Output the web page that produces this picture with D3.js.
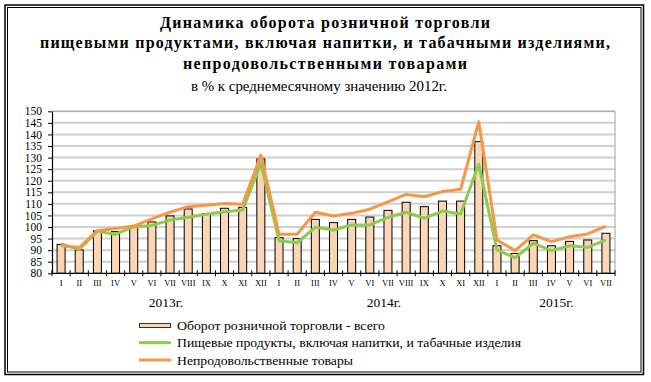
<!DOCTYPE html>
<html><head><meta charset="utf-8">
<script src="https://cdn.jsdelivr.net/npm/d3@7/dist/d3.min.js"></script>
<style>body{margin:0;background:#fff}svg{display:block}</style>
</head><body>
<svg id="c" width="651" height="382"></svg>
<script>
const months = ["I","II","III","IV","V","VI","VII","VIII","IX","X","XI","XII",
  "I","II","III","IV","V","VI","VII","VIII","IX","X","XI","XII",
  "I","II","III","IV","V","VI","VII"];
const years = [{label:"2013г.", from:0, to:11},{label:"2014г.", from:12, to:23},{label:"2015г.", from:24, to:30}];
const totalRetail = [92.5,90.1,98.3,98.0,100.1,102.2,104.8,107.8,105.8,108.1,108.5,129.4,
  95.4,95.0,103.3,101.9,103.3,104.3,107.2,110.7,108.8,111.2,111.2,136.9,
  91.9,88.6,94.1,91.9,93.8,94.4,97.3];
const foodProducts = [92.7,90.3,98.2,96.9,100.1,100.7,103.0,104.2,105.5,106.6,107.4,127.5,
  94.1,93.2,99.9,98.7,100.9,100.9,104.2,106.4,103.8,106.9,105.6,127.2,
  90.1,86.7,93.0,89.8,91.9,91.2,94.4];
const nonFood = [91.9,91.1,98.4,99.4,100.4,103.5,106.4,108.8,109.4,110.2,109.8,131.1,
  96.9,96.9,106.4,104.8,105.9,107.7,110.9,114.1,113.1,115.3,116.3,145.5,
  94.4,89.8,96.6,93.7,95.8,97.0,100.4];
const yTicks = [80,85,90,95,100,105,110,115,120,125,130,135,140,145,150];
const titleLines = ["Динамика оборота розничной торговли",
  "пищевыми продуктами, включая напитки, и табачными изделиями,",
  "непродовольственными товарами"];
const subtitle = "в % к среднемесячному значению 2012г.";
const legendItems = ["Оборот розничной торговли - всего",
  "Пищевые продукты, включая напитки, и табачные изделия",
  "Непродовольственные товары"];

const svg = d3.select("#c");
const serif = "'Liberation Serif','Times New Roman',serif";
const BAR = "#FCD5B5", GREEN = "#8CCB4C", ORANGE = "#F79646";

// frame
svg.append("rect").attr("x",5).attr("y",5).attr("width",638.5).attr("height",369.5)
  .attr("fill","none").attr("stroke","#000").attr("stroke-width",1.5);
svg.append("rect").attr("x",7.5).attr("y",7.5).attr("width",633.5).attr("height",364.5)
  .attr("fill","none").attr("stroke","#000").attr("stroke-width",1);

// titles
const tW = [330, 570, 284];
const tY = [28, 48, 69];
titleLines.forEach((t,i)=>{
  svg.append("text").attr("x",325).attr("y",tY[i]).attr("text-anchor","middle")
    .attr("font-family",serif).attr("font-weight","bold").attr("font-size",16)
    .attr("textLength",tW[i]).attr("lengthAdjust","spacing").text(t);
});
svg.append("text").attr("x",319).attr("y",91).attr("text-anchor","middle")
  .attr("font-family",serif).attr("font-size",14.5).attr("textLength",256)
  .attr("lengthAdjust","spacingAndGlyphs").text(subtitle);

// scales
const L=52, R=615, T=111.3, B=273.3;
const xStep = (R-L)/months.length;
const xc = i => L + xStep*(i+0.5);
const y = d3.scaleLinear().domain([80,150]).range([B,T]);

// grid
svg.append("g").selectAll("line").data(yTicks.filter(d=>d>80)).join("line")
  .attr("x1",L).attr("x2",R).attr("y1",d=>y(d)).attr("y2",d=>y(d))
  .attr("stroke","#cfcfcf").attr("stroke-width",2);
svg.append("line").attr("x1",R).attr("x2",R).attr("y1",T).attr("y2",B)
  .attr("stroke","#a0a0a0").attr("stroke-width",1);
svg.append("line").attr("x1",L).attr("x2",R).attr("y1",T).attr("y2",T)
  .attr("stroke","#a0a0a0").attr("stroke-width",1);

// bars
svg.append("g").selectAll("rect").data(totalRetail).join("rect")
  .attr("x",(d,i)=>xc(i)-4).attr("width",8)
  .attr("y",d=>y(d)).attr("height",d=>B-y(d))
  .attr("fill",BAR).attr("stroke","#000").attr("stroke-width",1);

// lines
const line = d3.line().x((d,i)=>xc(i)).y(d=>y(d));
svg.append("path").datum(foodProducts).attr("d",line).attr("fill","none")
  .attr("stroke",GREEN).attr("stroke-width",3).attr("stroke-linejoin","round");
svg.append("path").datum(nonFood).attr("d",line).attr("fill","none")
  .attr("stroke",ORANGE).attr("stroke-width",3).attr("stroke-linejoin","round");

// y axis
const yAxis = svg.append("g").attr("transform",`translate(${L},0)`)
  .call(d3.axisLeft(y).tickValues(yTicks).tickSize(4).tickPadding(6).tickSizeOuter(0));
yAxis.select(".domain").attr("stroke","#000").attr("stroke-width",1.2);
yAxis.selectAll("text").attr("font-family",serif).attr("font-size",11.5).attr("fill","#000");

// x axis
svg.append("line").attr("x1",L).attr("x2",R).attr("y1",B).attr("y2",B)
  .attr("stroke","#000").attr("stroke-width",1.2);
svg.append("g").selectAll("line").data(d3.range(months.length+1)).join("line")
  .attr("x1",i=>L+xStep*i).attr("x2",i=>L+xStep*i)
  .attr("y1",B-3).attr("y2",B+3).attr("stroke","#000").attr("stroke-width",1);
svg.append("g").selectAll("text").data(months).join("text")
  .attr("x",(d,i)=>xc(i)).attr("y",286).attr("text-anchor","middle")
  .attr("font-family",serif).attr("font-size",8.5).text(d=>d);
svg.append("g").selectAll("text").data(years).join("text")
  .attr("x",d=>(xc(d.from)+xc(d.to))/2+5).attr("y",307).attr("text-anchor","middle")
  .attr("font-family",serif).attr("font-size",13.5).text(d=>d.label);

// legend
const lg = svg.append("g");
const lgY = [325.5, 342.7, 360];
lg.append("rect").attr("x",139.5).attr("y",lgY[0]-2).attr("width",31).attr("height",4)
  .attr("fill",BAR).attr("stroke","#333").attr("stroke-width",1);
lg.append("line").attr("x1",139).attr("x2",171).attr("y1",lgY[1]).attr("y2",lgY[1])
  .attr("stroke",GREEN).attr("stroke-width",3);
lg.append("line").attr("x1",139).attr("x2",171).attr("y1",lgY[2]).attr("y2",lgY[2])
  .attr("stroke",ORANGE).attr("stroke-width",3);
const lgW = [208, 344, 176];
legendItems.forEach((t,i)=>{
  lg.append("text").attr("x",177).attr("y",lgY[i]+4.5).attr("font-family",serif)
    .attr("font-size",13.5).attr("textLength",lgW[i]).attr("lengthAdjust","spacingAndGlyphs").text(t);
});
</script>
</body></html>
